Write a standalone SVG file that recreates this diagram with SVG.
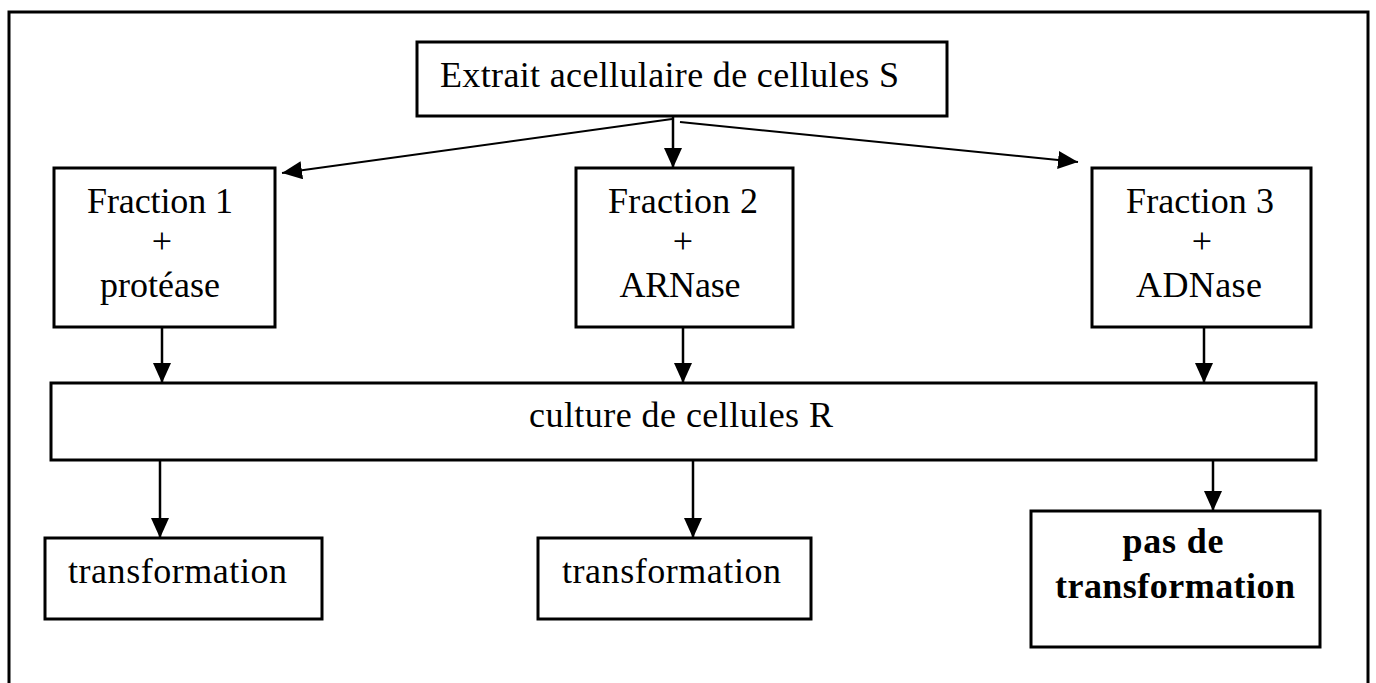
<svg xmlns="http://www.w3.org/2000/svg" width="1376" height="683" viewBox="0 0 1376 683">
<style>
.box{fill:#fff;stroke:#000;stroke-width:3}
.t{font-family:"Liberation Serif","Times New Roman",serif;font-size:36px;fill:#000;text-anchor:middle}
.b{font-weight:bold}
.c{stroke:#000;stroke-width:2.5;fill:none;marker-end:url(#ah)}
.d{stroke:#000;stroke-width:2;fill:none;marker-end:url(#ah)}
</style>
<defs>
<marker id="ah" markerUnits="userSpaceOnUse" viewBox="0 0 20 18" refX="20" refY="9" markerWidth="20" markerHeight="18" orient="auto">
<path d="M0,0 L20,9 L0,18 Z" fill="#000"/>
</marker>
</defs>
<rect x="0" y="0" width="1376" height="683" fill="#fff"/>
<g id="frame"><rect x="9" y="12" width="1359" height="700" fill="none" stroke="#000" stroke-width="3"/></g>
<g id="connectors">
<line class="d" x1="672" y1="119" x2="282" y2="173"/>
<line class="c" x1="673" y1="117" x2="673" y2="168"/>
<line class="d" x1="680" y1="122" x2="1078" y2="162"/>
<line class="c" x1="162" y1="327" x2="162" y2="383"/>
<line class="c" x1="683" y1="327" x2="683" y2="383"/>
<line class="c" x1="1204" y1="327" x2="1204" y2="383"/>
<line class="c" x1="160" y1="460" x2="160" y2="538"/>
<line class="c" x1="693" y1="460" x2="693" y2="538"/>
<line class="c" x1="1213" y1="460" x2="1213" y2="511"/>
</g>
<g id="extrait">
<rect class="box" x="417" y="42" width="530" height="74"/>
<text class="t" x="669.5" y="87" textLength="459">Extrait acellulaire de cellules S</text>
</g>
<g id="fraction1">
<rect class="box" x="54" y="168" width="221" height="159"/>
<text class="t" x="160" y="213" textLength="146">Fraction 1</text>
<text class="t" x="162" y="253">+</text>
<text class="t" x="160" y="297" textLength="120">protéase</text>
</g>
<g id="fraction2">
<rect class="box" x="576" y="168" width="217" height="159"/>
<text class="t" x="683" y="213" textLength="150">Fraction 2</text>
<text class="t" x="683" y="253">+</text>
<text class="t" x="680" y="297" textLength="121">ARNase</text>
</g>
<g id="fraction3">
<rect class="box" x="1092" y="168" width="219" height="159"/>
<text class="t" x="1200" y="213" textLength="148">Fraction 3</text>
<text class="t" x="1202" y="253">+</text>
<text class="t" x="1199" y="297" textLength="126">ADNase</text>
</g>
<g id="culture">
<rect class="box" x="51" y="383" width="1265" height="77"/>
<text class="t" x="681" y="427" textLength="304">culture de cellules R</text>
</g>
<g id="result1">
<rect class="box" x="45" y="538" width="277" height="81"/>
<text class="t" x="177.5" y="583" textLength="219">transformation</text>
</g>
<g id="result2">
<rect class="box" x="538" y="538" width="273" height="81"/>
<text class="t" x="671.5" y="583" textLength="219">transformation</text>
</g>
<g id="result3">
<rect class="box" x="1031" y="511" width="289" height="136"/>
<text class="t b" x="1173" y="553" textLength="101">pas de</text>
<text class="t b" x="1175" y="598" textLength="240">transformation</text>
</g>
</svg>
